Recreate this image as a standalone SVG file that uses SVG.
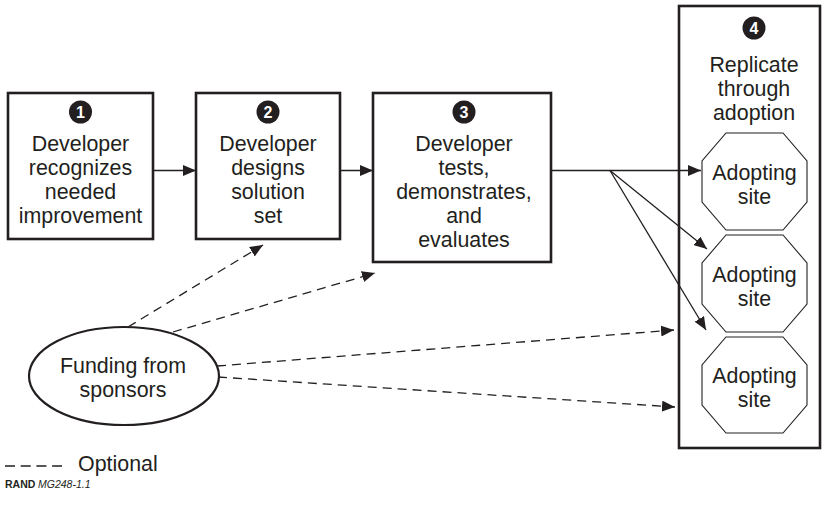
<svg xmlns="http://www.w3.org/2000/svg" width="824" height="513" viewBox="0 0 824 513">
  <style>
    .box { fill: #fff; stroke: #231f20; stroke-width: 2.6; }
    .oct { fill: #fff; stroke: #231f20; stroke-width: 1.1; }
    .ell { fill: #fff; stroke: #231f20; stroke-width: 2.2; }
    .t { font-family: "Liberation Sans", Arial, sans-serif; font-size: 21.4px; fill: #231f20; text-anchor: middle; }
    .num { font-family: "Liberation Sans", Arial, sans-serif; font-size: 16px; font-weight: bold; fill: #fff; text-anchor: middle; }
    .badge { fill: #231f20; }
    .solid { fill: none; stroke: #231f20; stroke-width: 1.3; }
    .dash { fill: none; stroke: #231f20; stroke-width: 1.3; stroke-dasharray: 9 6; }
    .cap { font-family: "Liberation Sans", Arial, sans-serif; font-size: 10.5px; fill: #231f20; }
  </style>
  <defs>
    <marker id="ah" markerUnits="userSpaceOnUse" markerWidth="13" markerHeight="11" refX="13" refY="5.5" orient="auto">
      <path d="M0,0 L13,5.5 L0,11 z" fill="#231f20"/>
    </marker>
  </defs>

  <g id="step1">
    <rect class="box" x="8" y="93" width="145" height="146"/>
    <circle class="badge" cx="80.5" cy="112" r="11.5"/>
    <text class="num" x="80.5" y="117.8">1</text>
    <text class="t" x="80.5" y="151">Developer</text>
    <text class="t" x="80.5" y="175">recognizes</text>
    <text class="t" x="80.5" y="199">needed</text>
    <text class="t" x="80.5" y="223">improvement</text>
  </g>

  <g id="step2">
    <rect class="box" x="196" y="93" width="144" height="146"/>
    <circle class="badge" cx="268" cy="112" r="11.5"/>
    <text class="num" x="268" y="117.8">2</text>
    <text class="t" x="268" y="151">Developer</text>
    <text class="t" x="268" y="175">designs</text>
    <text class="t" x="268" y="199">solution</text>
    <text class="t" x="268" y="223">set</text>
  </g>

  <g id="step3">
    <rect class="box" x="373" y="93" width="178" height="169"/>
    <circle class="badge" cx="464" cy="112" r="11.5"/>
    <text class="num" x="464" y="117.8">3</text>
    <text class="t" x="464" y="151">Developer</text>
    <text class="t" x="464" y="175">tests,</text>
    <text class="t" x="464" y="199">demonstrates,</text>
    <text class="t" x="464" y="223">and</text>
    <text class="t" x="464" y="247">evaluates</text>
  </g>

  <g id="step4">
    <rect class="box" x="679" y="6" width="141" height="442"/>
    <circle class="badge" cx="754" cy="28" r="11.5"/>
    <text class="num" x="754" y="33.8">4</text>
    <text class="t" x="754" y="72">Replicate</text>
    <text class="t" x="754" y="96">through</text>
    <text class="t" x="754" y="120">adoption</text>
  </g>

  <g id="site1">
    <polygon class="oct" points="726,133 783,133 807,161 807,202 783,230 726,230 702,202 702,161"/>
    <text class="t" x="754.5" y="179.5">Adopting</text>
    <text class="t" x="754.5" y="203.5">site</text>
  </g>
  <g id="site2">
    <polygon class="oct" points="726,235 783,235 807,263 807,304 783,332 726,332 702,304 702,263"/>
    <text class="t" x="754.5" y="281.5">Adopting</text>
    <text class="t" x="754.5" y="305.5">site</text>
  </g>
  <g id="site3">
    <polygon class="oct" points="726,337 783,337 807,365 807,405 783,433 726,433 702,405 702,365"/>
    <text class="t" x="754.5" y="383">Adopting</text>
    <text class="t" x="754.5" y="407">site</text>
  </g>

  <g id="funding">
    <ellipse class="ell" cx="124" cy="376" rx="95" ry="49"/>
    <text class="t" x="123" y="373">Funding from</text>
    <text class="t" x="123" y="397">sponsors</text>
  </g>

  <g id="connectors">
    <line class="solid" x1="153" y1="170.5" x2="196" y2="170.5" marker-end="url(#ah)"/>
    <line class="solid" x1="340" y1="170.5" x2="373" y2="170.5" marker-end="url(#ah)"/>
    <line class="solid" x1="551" y1="170.5" x2="701" y2="170.5" marker-end="url(#ah)"/>
    <line class="solid" x1="610" y1="170.5" x2="707" y2="249" marker-end="url(#ah)"/>
    <line class="solid" x1="610" y1="170.5" x2="706" y2="330" marker-end="url(#ah)"/>
    <line class="dash" x1="128" y1="327" x2="263" y2="245" marker-end="url(#ah)"/>
    <line class="dash" x1="173" y1="332" x2="375" y2="273" marker-end="url(#ah)"/>
    <line class="dash" x1="217" y1="366" x2="674" y2="330" marker-end="url(#ah)"/>
    <line class="dash" x1="218" y1="377" x2="675" y2="407" marker-end="url(#ah)"/>
  </g>

  <g id="legend">
    <line class="solid" x1="5" y1="466" x2="62" y2="466" style="stroke-dasharray: 10 5.7"/>
    <text class="t" x="78" y="471" style="text-anchor: start">Optional</text>
    <text class="cap" x="5" y="488" font-weight="bold">RAND</text>
    <text class="cap" x="38" y="488" font-style="italic">MG248-1.1</text>
  </g>
</svg>
